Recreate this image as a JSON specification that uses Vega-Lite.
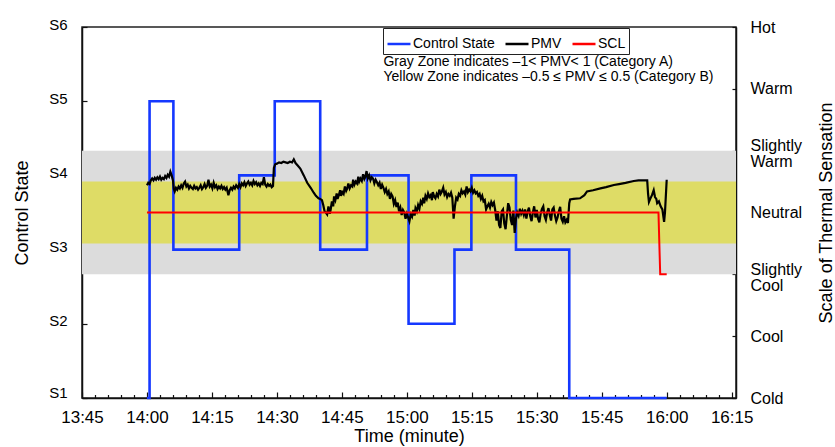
{
  "$schema": "https://vega.github.io/schema/vega-lite/v6.json",
  "width": 654,
  "height": 371,
  "autosize": {"type": "none"},
  "padding": {"left": 82, "top": 27, "right": 99, "bottom": 49},
  "config": {
    "font": "Liberation Sans",
    "view": {"stroke": "#222222", "strokeWidth": 1.5},
    "axis": {
      "grid": false,
      "domainColor": "#111111",
      "domainWidth": 1.5,
      "tickColor": "#111111",
      "tickWidth": 1.2,
      "labelColor": "#000000",
      "titleColor": "#000000",
      "titleFontWeight": "normal",
      "labelFont": "Liberation Sans",
      "titleFont": "Liberation Sans",
      "labelFlush": false,
      "labelOverlap": false
    },
    "legend": {"labelFont": "Liberation Sans"}
  },
  "datasets": {
    "control": [
      {"t": 0, "state": 1}, {"t": 0.6, "state": 5}, {"t": 6.1, "state": 3},
      {"t": 21.3, "state": 4}, {"t": 29.5, "state": 5}, {"t": 40, "state": 3},
      {"t": 50.8, "state": 4}, {"t": 60.4, "state": 2}, {"t": 71, "state": 3},
      {"t": 74.9, "state": 4}, {"t": 85.2, "state": 3}, {"t": 97.5, "state": 1},
      {"t": 120, "state": 1}
    ],
    "scl": [
      {"t": 0, "pmv": 0}, {"t": 118.1, "pmv": 0}, {"t": 118.5, "pmv": -1}, {"t": 120, "pmv": -1}
    ],
    "zones": [
      {"zone": "Category A", "lo": -1, "hi": 1},
      {"zone": "Category B", "lo": -0.5, "hi": 0.5}
    ],
    "pmv": [
      {"t": 0.0, "pmv": 0.44}, {"t": 0.3, "pmv": 0.48}, {"t": 0.6, "pmv": 0.46}, {"t": 0.9, "pmv": 0.52},
      {"t": 1.2, "pmv": 0.55}, {"t": 1.5, "pmv": 0.52}, {"t": 1.8, "pmv": 0.56}, {"t": 2.1, "pmv": 0.53},
      {"t": 2.4, "pmv": 0.57}, {"t": 2.7, "pmv": 0.54}, {"t": 3.0, "pmv": 0.58}, {"t": 3.3, "pmv": 0.53},
      {"t": 3.6, "pmv": 0.56}, {"t": 3.9, "pmv": 0.54}, {"t": 4.2, "pmv": 0.59}, {"t": 4.5, "pmv": 0.56},
      {"t": 4.8, "pmv": 0.61}, {"t": 5.1, "pmv": 0.58}, {"t": 5.4, "pmv": 0.66}, {"t": 5.7, "pmv": 0.6},
      {"t": 6.0, "pmv": 0.52}, {"t": 6.2, "pmv": 0.38}, {"t": 6.4, "pmv": 0.34}, {"t": 6.7, "pmv": 0.40},
      {"t": 7.0, "pmv": 0.37}, {"t": 7.3, "pmv": 0.42}, {"t": 7.6, "pmv": 0.39}, {"t": 7.9, "pmv": 0.44},
      {"t": 8.2, "pmv": 0.40}, {"t": 8.5, "pmv": 0.47}, {"t": 8.8, "pmv": 0.50}, {"t": 9.1, "pmv": 0.42},
      {"t": 9.4, "pmv": 0.45}, {"t": 9.7, "pmv": 0.39}, {"t": 10.0, "pmv": 0.43}, {"t": 10.3, "pmv": 0.40},
      {"t": 10.6, "pmv": 0.38}, {"t": 10.9, "pmv": 0.43}, {"t": 11.2, "pmv": 0.39}, {"t": 11.5, "pmv": 0.41},
      {"t": 11.8, "pmv": 0.37}, {"t": 12.1, "pmv": 0.40}, {"t": 12.4, "pmv": 0.44}, {"t": 12.7, "pmv": 0.38},
      {"t": 13.0, "pmv": 0.41}, {"t": 13.3, "pmv": 0.46}, {"t": 13.6, "pmv": 0.40}, {"t": 13.9, "pmv": 0.43},
      {"t": 14.2, "pmv": 0.53}, {"t": 14.5, "pmv": 0.42}, {"t": 14.8, "pmv": 0.45}, {"t": 15.1, "pmv": 0.39},
      {"t": 15.4, "pmv": 0.48}, {"t": 15.7, "pmv": 0.41}, {"t": 16.0, "pmv": 0.44}, {"t": 16.3, "pmv": 0.38},
      {"t": 16.6, "pmv": 0.42}, {"t": 16.9, "pmv": 0.39}, {"t": 17.2, "pmv": 0.43}, {"t": 17.5, "pmv": 0.38},
      {"t": 17.8, "pmv": 0.41}, {"t": 18.1, "pmv": 0.37}, {"t": 18.4, "pmv": 0.40}, {"t": 18.8, "pmv": 0.28},
      {"t": 19.1, "pmv": 0.36}, {"t": 19.4, "pmv": 0.40}, {"t": 19.7, "pmv": 0.37}, {"t": 20.0, "pmv": 0.42},
      {"t": 20.3, "pmv": 0.39}, {"t": 20.6, "pmv": 0.44}, {"t": 21.0, "pmv": 0.40}, {"t": 21.3, "pmv": 0.46},
      {"t": 21.6, "pmv": 0.41}, {"t": 21.9, "pmv": 0.47}, {"t": 22.2, "pmv": 0.44}, {"t": 22.5, "pmv": 0.49},
      {"t": 22.8, "pmv": 0.43}, {"t": 23.1, "pmv": 0.47}, {"t": 23.4, "pmv": 0.50}, {"t": 23.7, "pmv": 0.45},
      {"t": 24.0, "pmv": 0.48}, {"t": 24.3, "pmv": 0.44}, {"t": 24.6, "pmv": 0.51}, {"t": 24.9, "pmv": 0.46},
      {"t": 25.2, "pmv": 0.49}, {"t": 25.5, "pmv": 0.44}, {"t": 25.8, "pmv": 0.47}, {"t": 26.1, "pmv": 0.43},
      {"t": 26.4, "pmv": 0.48}, {"t": 26.7, "pmv": 0.46}, {"t": 27.0, "pmv": 0.57}, {"t": 27.3, "pmv": 0.45},
      {"t": 27.6, "pmv": 0.42}, {"t": 27.9, "pmv": 0.46}, {"t": 28.2, "pmv": 0.43}, {"t": 28.5, "pmv": 0.45},
      {"t": 28.8, "pmv": 0.41}, {"t": 29.1, "pmv": 0.43}, {"t": 29.3, "pmv": 0.72}, {"t": 29.6, "pmv": 0.78},
      {"t": 30.0, "pmv": 0.79}, {"t": 30.5, "pmv": 0.81}, {"t": 31.0, "pmv": 0.80}, {"t": 31.5, "pmv": 0.82},
      {"t": 32.0, "pmv": 0.81}, {"t": 32.5, "pmv": 0.80}, {"t": 33.0, "pmv": 0.82}, {"t": 33.5, "pmv": 0.81},
      {"t": 33.9, "pmv": 0.86}, {"t": 34.3, "pmv": 0.80}, {"t": 34.8, "pmv": 0.76}, {"t": 35.4, "pmv": 0.71},
      {"t": 36.2, "pmv": 0.60}, {"t": 37.0, "pmv": 0.48}, {"t": 37.8, "pmv": 0.40}, {"t": 38.5, "pmv": 0.32},
      {"t": 39.0, "pmv": 0.27}, {"t": 39.6, "pmv": 0.23}, {"t": 40.0, "pmv": 0.22}, {"t": 40.4, "pmv": 0.20},
      {"t": 40.7, "pmv": 0.12}, {"t": 41.0, "pmv": 0.02}, {"t": 41.3, "pmv": 0.0}, {"t": 41.6, "pmv": -0.03},
      {"t": 41.9, "pmv": 0.10}, {"t": 42.2, "pmv": -0.02}, {"t": 42.4, "pmv": 0.04}, {"t": 42.7, "pmv": 0.18},
      {"t": 43.0, "pmv": 0.10}, {"t": 43.2, "pmv": 0.26}, {"t": 43.5, "pmv": 0.20}, {"t": 43.8, "pmv": 0.31},
      {"t": 44.0, "pmv": 0.22}, {"t": 44.3, "pmv": 0.28}, {"t": 44.6, "pmv": 0.36}, {"t": 44.8, "pmv": 0.27},
      {"t": 45.1, "pmv": 0.33}, {"t": 45.4, "pmv": 0.30}, {"t": 45.7, "pmv": 0.42}, {"t": 46.0, "pmv": 0.35},
      {"t": 46.2, "pmv": 0.38}, {"t": 46.5, "pmv": 0.47}, {"t": 46.8, "pmv": 0.39}, {"t": 47.1, "pmv": 0.44},
      {"t": 47.4, "pmv": 0.42}, {"t": 47.6, "pmv": 0.53}, {"t": 47.9, "pmv": 0.45}, {"t": 48.2, "pmv": 0.50},
      {"t": 48.5, "pmv": 0.47}, {"t": 48.8, "pmv": 0.58}, {"t": 49.0, "pmv": 0.50}, {"t": 49.3, "pmv": 0.55},
      {"t": 49.6, "pmv": 0.51}, {"t": 49.9, "pmv": 0.62}, {"t": 50.2, "pmv": 0.54}, {"t": 50.4, "pmv": 0.57},
      {"t": 50.7, "pmv": 0.67}, {"t": 51.0, "pmv": 0.55}, {"t": 51.3, "pmv": 0.60}, {"t": 51.6, "pmv": 0.52},
      {"t": 51.9, "pmv": 0.57}, {"t": 52.2, "pmv": 0.55}, {"t": 52.5, "pmv": 0.47}, {"t": 52.8, "pmv": 0.53},
      {"t": 53.1, "pmv": 0.49}, {"t": 53.4, "pmv": 0.44}, {"t": 53.7, "pmv": 0.48}, {"t": 54.0, "pmv": 0.38},
      {"t": 54.3, "pmv": 0.45}, {"t": 54.6, "pmv": 0.40}, {"t": 54.9, "pmv": 0.33}, {"t": 55.2, "pmv": 0.38},
      {"t": 55.5, "pmv": 0.30}, {"t": 55.8, "pmv": 0.34}, {"t": 56.1, "pmv": 0.22}, {"t": 56.4, "pmv": 0.30},
      {"t": 56.7, "pmv": 0.26}, {"t": 57.0, "pmv": 0.14}, {"t": 57.3, "pmv": 0.20}, {"t": 57.6, "pmv": 0.09},
      {"t": 57.9, "pmv": 0.16}, {"t": 58.2, "pmv": 0.02}, {"t": 58.5, "pmv": 0.08}, {"t": 58.8, "pmv": -0.04},
      {"t": 59.1, "pmv": 0.04}, {"t": 59.4, "pmv": 0.0}, {"t": 59.7, "pmv": -0.10}, {"t": 60.0, "pmv": -0.02},
      {"t": 60.3, "pmv": -0.08}, {"t": 60.6, "pmv": -0.14}, {"t": 60.9, "pmv": -0.03}, {"t": 61.2, "pmv": -0.07},
      {"t": 61.5, "pmv": 0.04}, {"t": 61.8, "pmv": -0.05}, {"t": 62.0, "pmv": 0.07}, {"t": 62.3, "pmv": 0.02},
      {"t": 62.6, "pmv": 0.12}, {"t": 62.9, "pmv": 0.06}, {"t": 63.2, "pmv": 0.18}, {"t": 63.5, "pmv": 0.14},
      {"t": 63.8, "pmv": 0.24}, {"t": 64.0, "pmv": 0.15}, {"t": 64.3, "pmv": 0.27}, {"t": 64.6, "pmv": 0.22},
      {"t": 64.9, "pmv": 0.31}, {"t": 65.2, "pmv": 0.25}, {"t": 65.5, "pmv": 0.28}, {"t": 65.8, "pmv": 0.20},
      {"t": 66.0, "pmv": 0.33}, {"t": 66.3, "pmv": 0.26}, {"t": 66.6, "pmv": 0.23}, {"t": 66.9, "pmv": 0.30},
      {"t": 67.2, "pmv": 0.26}, {"t": 67.5, "pmv": 0.37}, {"t": 67.8, "pmv": 0.30}, {"t": 68.1, "pmv": 0.34},
      {"t": 68.4, "pmv": 0.40}, {"t": 68.7, "pmv": 0.29}, {"t": 69.0, "pmv": 0.33}, {"t": 69.3, "pmv": 0.25},
      {"t": 69.6, "pmv": 0.30}, {"t": 69.9, "pmv": 0.27}, {"t": 70.2, "pmv": 0.32}, {"t": 70.5, "pmv": 0.24},
      {"t": 70.8, "pmv": -0.10}, {"t": 71.1, "pmv": 0.10}, {"t": 71.4, "pmv": 0.24}, {"t": 71.7, "pmv": 0.21},
      {"t": 72.0, "pmv": 0.30}, {"t": 72.3, "pmv": 0.27}, {"t": 72.6, "pmv": 0.36}, {"t": 72.9, "pmv": 0.31},
      {"t": 73.2, "pmv": 0.34}, {"t": 73.5, "pmv": 0.29}, {"t": 73.8, "pmv": 0.42}, {"t": 74.1, "pmv": 0.33},
      {"t": 74.4, "pmv": 0.37}, {"t": 74.7, "pmv": 0.34}, {"t": 75.0, "pmv": 0.40}, {"t": 75.3, "pmv": 0.32},
      {"t": 75.6, "pmv": 0.36}, {"t": 75.9, "pmv": 0.31}, {"t": 76.2, "pmv": 0.33}, {"t": 76.5, "pmv": 0.27},
      {"t": 76.8, "pmv": 0.30}, {"t": 77.1, "pmv": 0.22}, {"t": 77.4, "pmv": 0.27}, {"t": 77.7, "pmv": 0.18},
      {"t": 78.0, "pmv": 0.20}, {"t": 78.3, "pmv": 0.05}, {"t": 78.6, "pmv": 0.10}, {"t": 78.9, "pmv": 0.14},
      {"t": 79.2, "pmv": 0.08}, {"t": 79.5, "pmv": 0.17}, {"t": 79.8, "pmv": 0.12}, {"t": 80.1, "pmv": 0.16},
      {"t": 80.4, "pmv": 0.04}, {"t": 80.7, "pmv": -0.13}, {"t": 81.0, "pmv": 0.02}, {"t": 81.3, "pmv": -0.20},
      {"t": 81.6, "pmv": -0.25}, {"t": 81.9, "pmv": 0.02}, {"t": 82.2, "pmv": 0.05}, {"t": 82.5, "pmv": -0.18},
      {"t": 82.8, "pmv": -0.27}, {"t": 83.1, "pmv": -0.05}, {"t": 83.4, "pmv": 0.15}, {"t": 83.7, "pmv": 0.08},
      {"t": 84.0, "pmv": -0.12}, {"t": 84.3, "pmv": -0.20}, {"t": 84.6, "pmv": 0.03}, {"t": 84.9, "pmv": -0.33},
      {"t": 85.2, "pmv": -0.10}, {"t": 85.5, "pmv": 0.00}, {"t": 85.8, "pmv": -0.05}, {"t": 86.1, "pmv": 0.06},
      {"t": 86.4, "pmv": -0.02}, {"t": 86.7, "pmv": 0.03}, {"t": 87.0, "pmv": -0.04}, {"t": 87.3, "pmv": 0.05},
      {"t": 87.6, "pmv": -0.10}, {"t": 87.9, "pmv": 0.02}, {"t": 88.2, "pmv": 0.08}, {"t": 88.5, "pmv": -0.06},
      {"t": 88.8, "pmv": -0.14}, {"t": 89.1, "pmv": 0.00}, {"t": 89.4, "pmv": 0.10}, {"t": 89.7, "pmv": -0.08},
      {"t": 90.0, "pmv": 0.04}, {"t": 90.3, "pmv": -0.10}, {"t": 90.6, "pmv": -0.16}, {"t": 90.9, "pmv": -0.02},
      {"t": 91.2, "pmv": 0.06}, {"t": 91.5, "pmv": 0.10}, {"t": 91.8, "pmv": -0.06}, {"t": 92.1, "pmv": -0.12},
      {"t": 92.4, "pmv": 0.00}, {"t": 92.7, "pmv": 0.07}, {"t": 93.0, "pmv": -0.04}, {"t": 93.3, "pmv": -0.13},
      {"t": 93.6, "pmv": 0.05}, {"t": 93.9, "pmv": 0.08}, {"t": 94.2, "pmv": -0.05}, {"t": 94.5, "pmv": -0.14},
      {"t": 94.8, "pmv": -0.08}, {"t": 95.1, "pmv": 0.02}, {"t": 95.4, "pmv": 0.09}, {"t": 95.7, "pmv": -0.10},
      {"t": 96.0, "pmv": -0.15}, {"t": 96.3, "pmv": -0.06}, {"t": 96.6, "pmv": -0.16}, {"t": 96.9, "pmv": -0.12},
      {"t": 97.2, "pmv": -0.17}, {"t": 97.5, "pmv": 0.15}, {"t": 97.7, "pmv": 0.21}, {"t": 98.5, "pmv": 0.22},
      {"t": 100.0, "pmv": 0.23}, {"t": 101.0, "pmv": 0.28}, {"t": 101.6, "pmv": 0.34}, {"t": 103.0, "pmv": 0.36},
      {"t": 104.7, "pmv": 0.39}, {"t": 106.0, "pmv": 0.41}, {"t": 107.8, "pmv": 0.445}, {"t": 109.0, "pmv": 0.46},
      {"t": 110.5, "pmv": 0.48}, {"t": 112.4, "pmv": 0.51}, {"t": 113.5, "pmv": 0.52}, {"t": 115.5, "pmv": 0.52},
      {"t": 115.7, "pmv": 0.30}, {"t": 115.9, "pmv": 0.17}, {"t": 116.2, "pmv": 0.22}, {"t": 116.6, "pmv": 0.28},
      {"t": 117.0, "pmv": 0.36}, {"t": 117.3, "pmv": 0.25}, {"t": 117.6, "pmv": 0.22}, {"t": 117.8, "pmv": 0.15},
      {"t": 118.2, "pmv": 0.18}, {"t": 118.6, "pmv": 0.10}, {"t": 119.0, "pmv": 0.05}, {"t": 119.4, "pmv": -0.15},
      {"t": 119.6, "pmv": 0.0}, {"t": 120.0, "pmv": 0.53}
    ]
  },
  "resolve": {
    "scale": {"y": "independent"},
    "axis": {"x": "independent", "y": "independent"}
  },
  "layer": [
    {
      "data": {"name": "zones"},
      "mark": {"type": "rect"},
      "encoding": {
        "x": {
          "datum": -15,
          "type": "quantitative",
          "scale": {"domain": [-15, 136], "nice": false, "zero": false},
          "axis": {
            "orient": "bottom",
            "values": [-12, -9, -6, -3, 3, 6, 9, 12, 18, 21, 24, 27, 33, 36, 39, 42, 48, 51, 54, 57, 63, 66, 69, 72, 78, 81, 84, 87, 93, 96, 99, 102, 108, 111, 114, 117, 123, 126, 129, 132],
            "labels": false,
            "domain": false,
            "tickSize": -3.5,
            "title": null
          }
        },
        "x2": {"datum": 136},
        "y": {
          "field": "lo",
          "type": "quantitative",
          "scale": {"domain": [-3, 3], "nice": false, "zero": false},
          "axis": null
        },
        "y2": {"field": "hi"},
        "fill": {
          "field": "zone",
          "type": "nominal",
          "scale": {"domain": ["Category A", "Category B"], "range": ["#dcdcdc", "#dedc66"]},
          "legend": null
        }
      }
    },
    {
      "data": {"name": "control"},
      "mark": {"type": "line", "interpolate": "step-after", "strokeWidth": 2.6},
      "encoding": {
        "x": {
          "field": "t",
          "type": "quantitative",
          "scale": {"domain": [-15, 136], "nice": false, "zero": false},
          "axis": {
            "orient": "bottom",
            "values": [-15, 0, 15, 30, 45, 60, 75, 90, 105, 120, 135],
            "labelExpr": "floor((840 + datum.value) / 60) + ':' + (((840 + datum.value) % 60) < 10 ? '0' : '') + ((840 + datum.value) % 60)",
            "labelFontSize": 17,
            "labelPadding": 17,
            "tickSize": -6,
            "title": "Time (minute)",
            "titleFontSize": 18,
            "titlePadding": 2
          }
        },
        "y": {
          "field": "state",
          "type": "quantitative",
          "scale": {"domain": [1, 6], "nice": false, "zero": false},
          "axis": {
            "orient": "left",
            "values": [1, 2, 3, 4, 5, 6],
            "labelExpr": "'S' + datum.value",
            "labelFontSize": 15,
            "labelPadding": 20,
            "labelOffset": {"condition": {"test": "datum.value == 1", "value": -6}, "value": -3},
            "tickSize": -5,
            "title": "Control State",
            "titleFontSize": 18,
            "titlePadding": 17
          }
        },
        "color": {
          "datum": "Control State",
          "type": "nominal",
          "scale": {"domain": ["Control State", "PMV", "SCL"], "range": ["#1538ff", "#000000", "#ff0000"]},
          "legend": {
            "orient": "none",
            "legendX": 301,
            "legendY": 1,
            "direction": "horizontal",
            "title": null,
            "symbolType": "stroke",
            "symbolSize": 529,
            "symbolStrokeWidth": 2.5,
            "labelFontSize": 14,
            "labelOffset": 1,
            "columnPadding": 5,
            "padding": 3,
            "strokeColor": "#222222",
            "fillColor": "#ffffff",
            "labelColor": "#000000"
          }
        }
      }
    },
    {
      "layer": [
        {
          "data": {"name": "pmv"},
          "mark": {"type": "line", "strokeWidth": 2.2},
          "encoding": {
            "x": {"field": "t", "type": "quantitative", "scale": {"domain": [-15, 136], "nice": false, "zero": false}, "axis": null},
            "y": {
              "field": "pmv",
              "type": "quantitative",
              "scale": {"domain": [-3, 3], "nice": false, "zero": false},
              "axis": {
                "orient": "right",
                "values": [-3, -2.5, -2, -1.5, -1, -0.5, 0, 0.5, 1, 1.5, 2, 2.5, 3],
                "labelExpr": "datum.value == 3 ? 'Hot' : datum.value == 2 ? 'Warm' : datum.value == 1 ? ['Slightly', 'Warm'] : datum.value == 0 ? 'Neutral' : datum.value == -1 ? ['Slightly', 'Cool'] : datum.value == -2 ? 'Cool' : datum.value == -3 ? 'Cold' : ''",
                "labelFontSize": 16,
                "labelLineHeight": 16,
                "labelPadding": 18,
                "labelOffset": {"condition": {"test": "abs(datum.value) == 1", "value": -5}, "value": 0},
                "tickSize": -4,
                "title": "Scale of Thermal Sensation",
                "titleAngle": 270,
                "titleBaseline": "top",
                "titleFontSize": 18,
                "titlePadding": 16
              }
            },
            "color": {"datum": "PMV", "type": "nominal"}
          }
        },
        {
          "data": {"name": "scl"},
          "mark": {"type": "line", "strokeWidth": 2},
          "encoding": {
            "x": {"field": "t", "type": "quantitative"},
            "y": {"field": "pmv", "type": "quantitative"},
            "color": {"datum": "SCL", "type": "nominal"}
          }
        },
        {
          "data": {"values": [{}]},
          "mark": {
            "type": "text",
            "text": ["Gray Zone indicates –1< PMV< 1 (Category A)", "Yellow Zone indicates –0.5 ≤ PMV ≤ 0.5 (Category B)"],
            "align": "left",
            "baseline": "middle",
            "lineHeight": 14.5,
            "fontSize": 14,
            "color": "#000000"
          },
          "encoding": {
            "x": {"datum": 54.6, "type": "quantitative"},
            "y": {"datum": 2.43, "type": "quantitative"}
          }
        }
      ]
    }
  ]
}
